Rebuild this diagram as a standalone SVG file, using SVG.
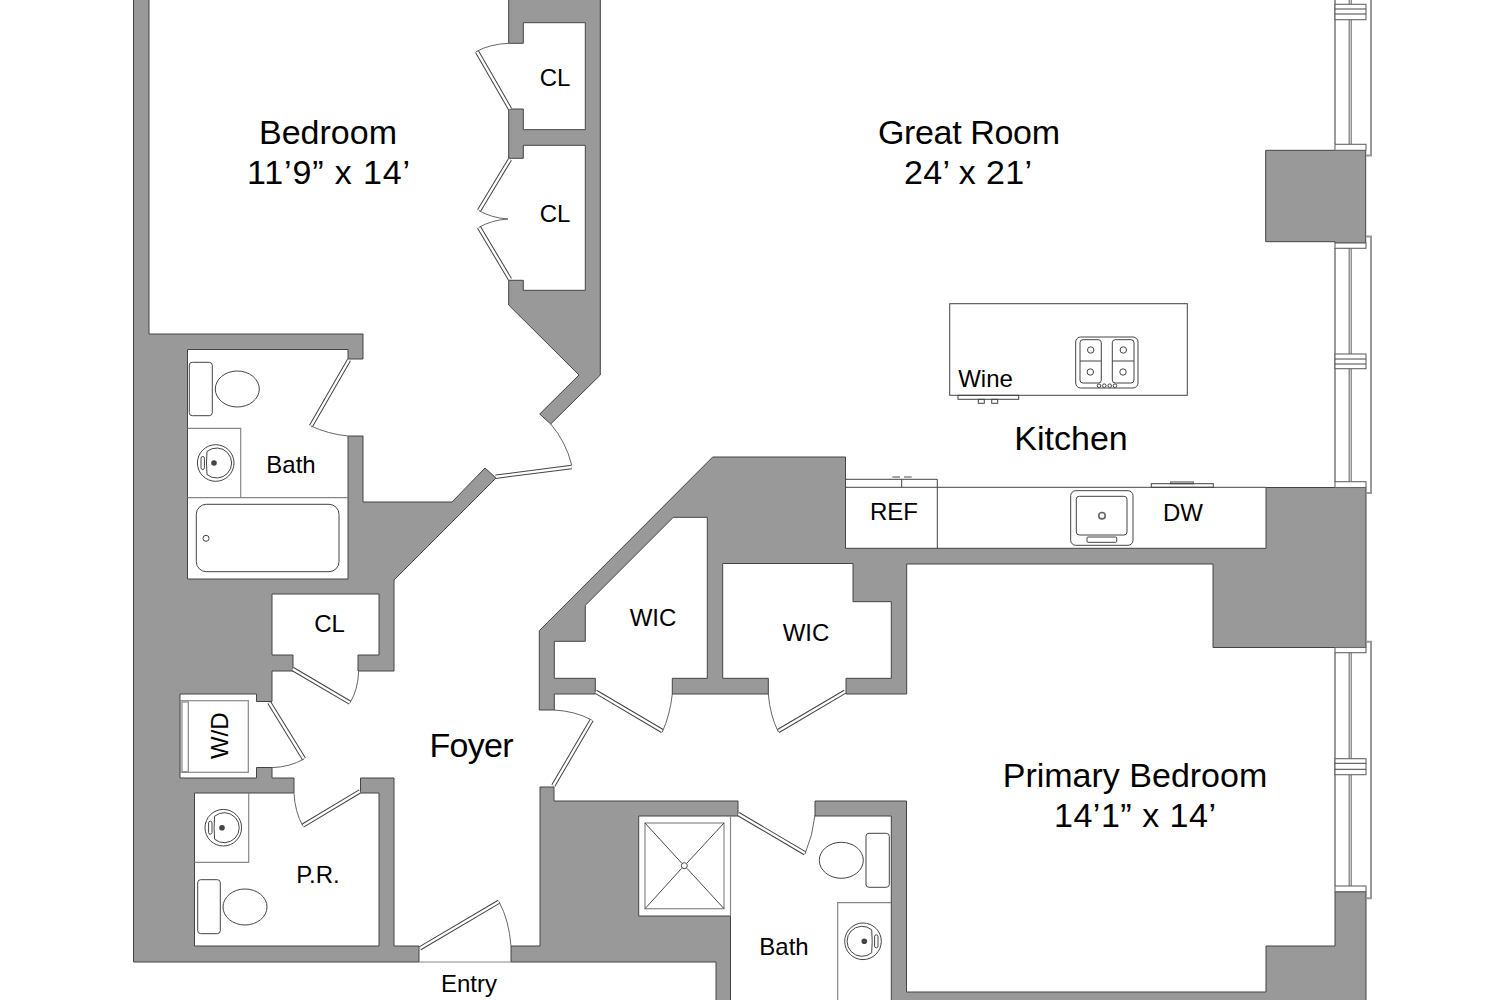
<svg xmlns="http://www.w3.org/2000/svg" width="1504" height="1000" viewBox="0 0 1504 1000">
<style>
text{font-family:"Liberation Sans",Arial,sans-serif;fill:#000;text-anchor:middle}
.l{font-size:34px}.m{font-size:24px}
.wall{fill:#999;stroke:#444;stroke-width:1}
.fx{fill:none;stroke:#444;stroke-width:1}
.wfx{fill:#fff;stroke:#444;stroke-width:1}
.lg{fill:none;stroke:#888;stroke-width:1.2}
.win{fill:none;stroke:#999;stroke-width:2}
.mid{fill:none;stroke:#777;stroke-width:1.2}
.wwin{fill:#fff;stroke:#666;stroke-width:1.1}
.arc{fill:none;stroke:#555;stroke-width:.9}
.do{stroke:#444;stroke-width:4.4;stroke-linecap:butt}
.di{stroke:#fff;stroke-width:2.4;stroke-linecap:butt}
</style>
<rect width="1504" height="1000" fill="#fff"/>
<g id="walls">
<polygon class="wall" points="133.5,-2 149,-2 149,334 363,334 363,359 348,359 348,349.5 187.5,349.5 187.5,579 348,579 348,436 363,436 363,502 452,502 485,468 496,478 394,580 394,671 358,671 358,655 379,655 379,594 272,594 272,655 293,655 293,671 272,671 272,701.5 256.5,701.5 256.5,694 180,694 180,778 256.5,778 256.5,767.5 272,767.5 272,778 294,778 294,793 194.5,793 194.5,946 379,946 379,793 360.5,793 360.5,778 394,778 394,946 419,946 419,962 133.5,962"/>
<polygon class="wall" points="511,962 511,946 540,946 540,787 554,787 554,801 738,801 738,816 638.7,816 638.7,916 730.5,916 730.5,1002 716,1002 716,962"/>
<polygon class="wall" points="815,801 906.5,801 906.5,992 1266,992 1266,946 1335,946 1335,891.7 1366,891.7 1366,1002 891.3,1002 891.3,816 815,816"/>
<polygon class="wall" points="539.3,710 539.3,630.7 712.7,457 845.5,457 845.5,548.3 1266,548.3 1266,487.5 1366,487.5 1366,647.5 1213,647.5 1213,564 906.7,564 906.7,694 846,694 846,678.3 891.3,678.3 891.3,601.7 853,601.7 853,563.5 722.7,563.5 722.7,678.3 768.3,678.3 768.3,694 672.3,694 672.3,678.3 707.3,678.3 707.3,517.3 673.3,517.3 585.3,605.3 585.3,641.3 554.3,641.3 554.3,678.3 595.3,678.3 595.3,694 554.3,694 554.3,710"/>
<polygon class="wall" points="1265.7,150.3 1365.7,150.3 1365.7,243 1335,243 1335,241.7 1265.7,241.7"/>
<polygon class="wall" points="508.7,-2 508.7,43.3 523.3,43.3 523.3,22.7 585.3,22.7 585.3,129.7 523.3,129.7 523.3,109 508.7,109 508.7,158.3 523.3,158.3 523.3,145.3 585.3,145.3 585.3,290.3 523.3,290.3 523.3,280.3 508.7,280.3 508.7,305 579,375 539.7,414 550.7,424 600.3,375 600.3,-2"/>
</g>
<g id="doors">
<path class="do" d="M510,109L477,51.7M510,159.3L479,210.7M510,279.3L479,227.3M349,360L311,426M495.7,476.7L571.7,467M292.7,669L350,702.7M269.3,702.7L304,759M360,791.3L302.7,825.7M420,948.3L499,901.7M553.3,785.7L591.7,720M595.7,691.7L662.3,731M845,691.7L778.3,731M738.3,814L805,853.3"/>
<path class="di" d="M510,109L477,51.7M510,159.3L479,210.7M510,279.3L479,227.3M349,360L311,426M495.7,476.7L571.7,467M292.7,669L350,702.7M269.3,702.7L304,759M360,791.3L302.7,825.7M420,948.3L499,901.7M553.3,785.7L591.7,720M595.7,691.7L662.3,731M845,691.7L778.3,731M738.3,814L805,853.3"/>
<path class="arc" d="M476,51.7Q490,44 508.7,43.3M479,210.7Q492,218 508,219M479,227.3Q492,220 508,219M311,426Q328,434 348,436M571.7,465Q566,442 550.7,424M350,702.7Q358,690 358.7,670.7M304,759Q290,767 271.7,767.7M302.7,825.7Q295,812 294,793.3M499,901.7Q509,920 511,946M554,710Q575,711 591.7,720M662.3,732Q670,715 672.3,694M778.3,732Q770,715 768.3,694M805,854Q813,835 815,815"/>
<line class="lg" x1="419" y1="962" x2="511" y2="962"/>
</g>
<g id="bath-fixtures">
<rect class="fx" x="189.3" y="362.3" width="23" height="53.4" rx="3"/>
<ellipse class="fx" cx="237.3" cy="389" rx="22" ry="18"/>
<path class="lg" d="M187.5,428.3H240.7V497.7M187.5,497.7H348"/>
<circle class="fx" cx="215.7" cy="463" r="18.3"/>
<path class="fx" d="M207,451.5A15,15 0 1 1 207,474.5Q206,463 207,451.5Z"/>
<rect class="fx" x="201" y="456.5" width="3.4" height="13" rx="1.7"/>
<circle cx="214" cy="463" r="2.8" fill="#444"/>
<rect class="fx" x="196.3" y="504.3" width="142.7" height="67.4" rx="10"/>
<circle class="fx" cx="206" cy="538.3" r="3"/>
<rect class="lg" x="180.5" y="700.7" width="67.8" height="71.6"/>
<rect class="lg" x="182" y="702" width="6.3" height="69.7"/>
<path class="lg" d="M248.7,793V862.3H194.5"/>
<circle class="fx" cx="223.3" cy="827.7" r="18.3"/>
<path class="fx" d="M214.6,816.2A15,15 0 1 1 214.6,839.2Q213.6,827.7 214.6,816.2Z"/>
<rect class="fx" x="208.6" y="821.2" width="3.4" height="13" rx="1.7"/>
<circle cx="222" cy="827.7" r="2.8" fill="#444"/>
<rect class="fx" x="197.7" y="879.7" width="22.6" height="54" rx="3"/>
<ellipse class="fx" cx="245" cy="907" rx="22" ry="18"/>
<line class="lg" x1="730.5" y1="816" x2="730.5" y2="916"/>
<rect class="lg" x="645" y="823" width="79" height="85.7"/>
<path d="M645,823L681.6,863M724,823L687,863M645,908.7L681.6,868.4M724,908.7L687,868.4" fill="none" stroke="#333" stroke-width=".9"/>
<circle class="fx" cx="684.3" cy="865.7" r="3"/>
<rect class="fx" x="866" y="833.3" width="23.3" height="54" rx="3"/>
<ellipse class="fx" cx="841.3" cy="860.3" rx="22" ry="18"/>
<path class="lg" d="M891,902.7H837.7V1002"/>
<circle class="fx" cx="863" cy="941.3" r="18.3"/>
<path class="fx" d="M871.7,929.8A15,15 0 1 0 871.7,952.8Q872.7,941.3 871.7,929.8Z"/>
<rect class="fx" x="874.6" y="934.8" width="3.4" height="13" rx="1.7"/>
<circle cx="864.3" cy="941.3" r="2.8" fill="#444"/>
</g>
<g id="kitchen">
<rect class="fx" x="949.7" y="303.7" width="237.6" height="91.6"/>
<rect class="fx" x="958" y="395.3" width="60.7" height="4"/>
<rect class="fx" x="978.3" y="399.3" width="6" height="4"/>
<rect class="fx" x="991.7" y="399.3" width="6" height="4"/>
<rect class="fx" x="1075.7" y="337" width="62.3" height="51" rx="5"/>
<rect class="fx" x="1080" y="339.7" width="21.3" height="43.3" rx="3"/>
<rect class="fx" x="1112.3" y="339.7" width="21.7" height="43.3" rx="3"/>
<path class="fx" d="M1080,361H1101.3M1112.3,361H1134"/>
<circle class="fx" cx="1090.7" cy="350" r="3.2"/>
<circle class="fx" cx="1090.3" cy="372" r="3.2"/>
<circle class="fx" cx="1123.3" cy="350" r="3.2"/>
<circle class="fx" cx="1123" cy="372" r="3.2"/>
<g class="wfx"><circle cx="1099" cy="385.7" r="1.8"/><circle cx="1104.3" cy="385.7" r="1.8"/><circle cx="1109.7" cy="385.7" r="1.8"/><circle cx="1115" cy="385.7" r="1.8"/></g>
<path class="fx" d="M846,487.3H1266M937.3,548.3V479.3H845.5M901.7,479.3V487.3"/>
<path d="M892.3,477H900M904,477H911.7" stroke="#888" stroke-width="1.5" fill="none"/>
<rect class="fx" x="1070.7" y="490.7" width="62.3" height="54.6" rx="5"/>
<rect class="fx" x="1076.3" y="496.3" width="50.7" height="38.7" rx="3"/>
<circle cx="1102" cy="515.7" r="3.2" fill="none" stroke="#666" stroke-width="1.6"/>
<rect class="fx" x="1087" y="537" width="29.7" height="5.3" rx="1"/>
<rect class="fx" x="1151.3" y="483.7" width="62" height="3.6"/>
<rect class="fx" x="1170.7" y="482" width="22.6" height="1.7"/>
</g>
<g id="windows">
<path class="win" d="M1335,-2V144M1371,-2V155.5H1366"/>
<path class="mid" d="M1349.2,-2V4.3M1351.2,-2V4.3M1349.2,19.7V144M1351.2,19.7V144"/>
<rect class="wwin" x="1335" y="4.3" width="31" height="15.4"/>
<path class="fx" d="M1335,9H1366M1335,14H1366"/>
<rect class="wwin" x="1335" y="144.3" width="31" height="6"/>
<path class="win" d="M1366,236.5H1371V493H1366M1335,248V482"/>
<path class="mid" d="M1349.2,248V354M1351.2,248V354M1349.2,368.7V481.7M1351.2,368.7V481.7"/>
<rect class="wwin" x="1335" y="243" width="31" height="5.3"/>
<rect class="wwin" x="1335" y="354" width="31" height="14.7"/>
<path class="fx" d="M1335,359H1366M1335,364H1366"/>
<rect class="wwin" x="1335" y="481.7" width="31" height="5.8"/>
<path class="win" d="M1366,641.7H1371V898.3H1366M1335,652.7V886"/>
<path class="mid" d="M1349.2,652.7V758.7M1351.2,652.7V758.7M1349.2,774.7V886M1351.2,774.7V886"/>
<rect class="wwin" x="1335" y="647.5" width="31" height="5.2"/>
<rect class="wwin" x="1335" y="758.7" width="31" height="16"/>
<path class="fx" d="M1335,763.3H1366M1335,769.3H1366"/>
<rect class="wwin" x="1335" y="886" width="31" height="5.7"/>
</g>
<g id="labels">
<text class="l" x="328" y="144">Bedroom</text>
<text class="l" x="328.5" y="184" textLength="163">11’9” x 14’</text>
<text class="l" x="969" y="144" textLength="182">Great Room</text>
<text class="l" x="968" y="184" textLength="128">24’ x 21’</text>
<text class="l" x="1071" y="450">Kitchen</text>
<text class="l" x="1135" y="787">Primary Bedroom</text>
<text class="l" x="1135" y="827" textLength="162">14’1” x 14’</text>
<text class="l" x="471.5" y="757" textLength="84">Foyer</text>
<text class="m" x="555" y="86">CL</text>
<text class="m" x="555" y="222">CL</text>
<text class="m" x="291" y="472.5">Bath</text>
<text class="m" x="329.5" y="632">CL</text>
<text class="m" transform="translate(228.3 735.7) rotate(-90)">W/D</text>
<text class="m" x="318" y="882.7">P.R.</text>
<text class="m" x="469" y="992">Entry</text>
<text class="m" x="653" y="625.7">WIC</text>
<text class="m" x="806" y="641">WIC</text>
<text class="m" x="894" y="520.3">REF</text>
<text class="m" x="1183" y="521">DW</text>
<text class="m" x="985.5" y="386.7">Wine</text>
<text class="m" x="784" y="954.7">Bath</text>
</g>
</svg>
